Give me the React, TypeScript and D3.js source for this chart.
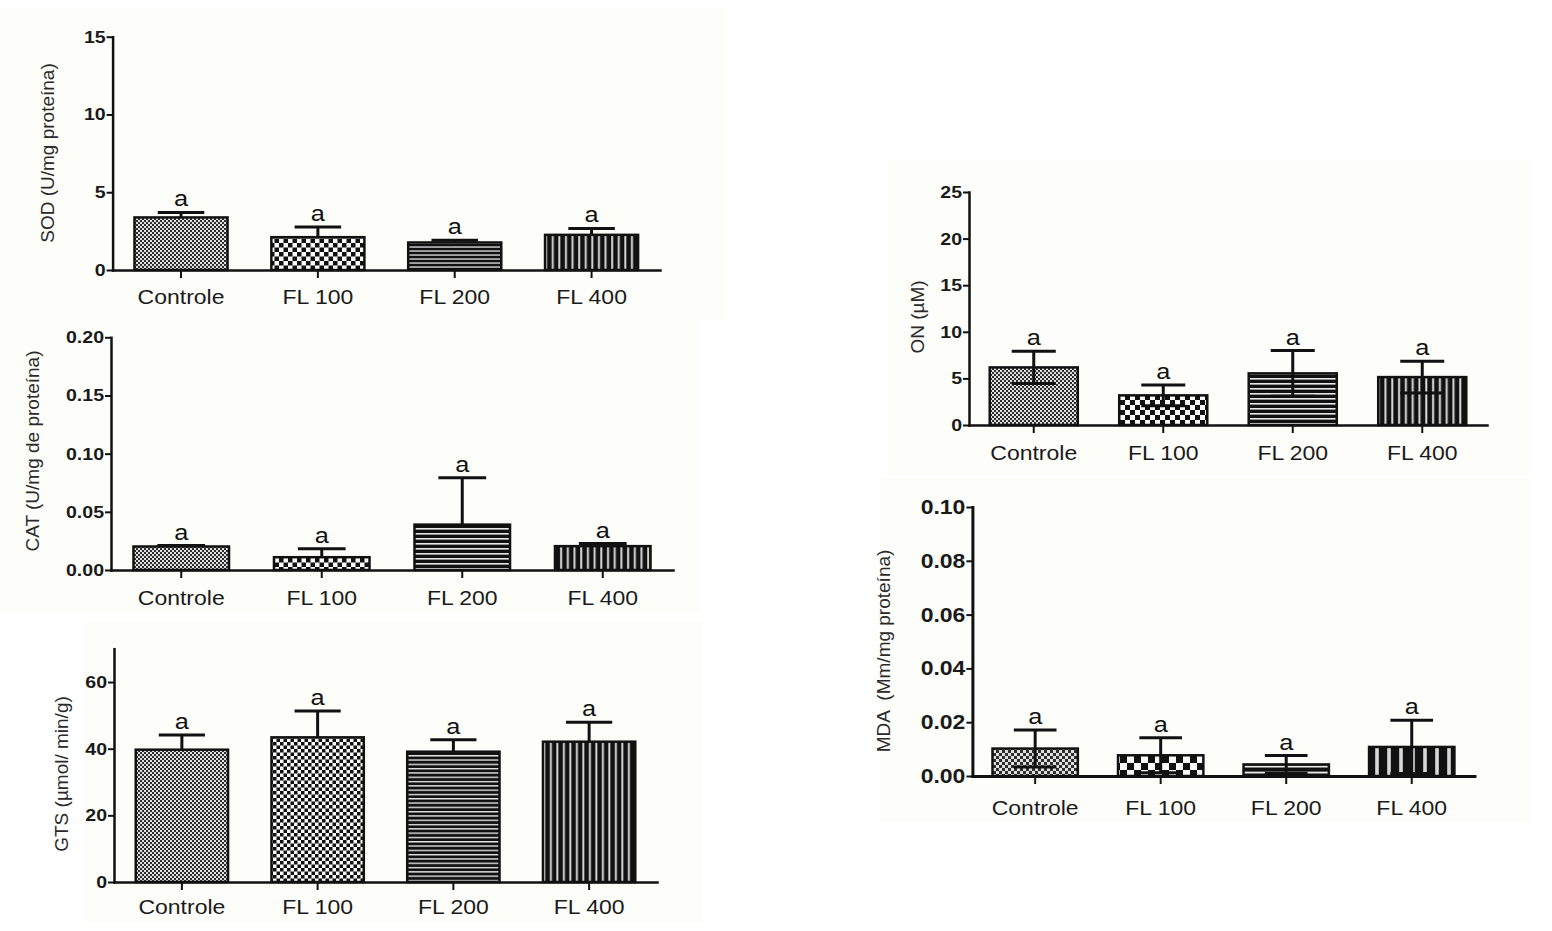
import React, { useEffect, useRef } from 'react';
import * as d3 from 'd3';

// groups on the x axis
const categories = ['Controle', 'FL 100', 'FL 200', 'FL 400'];
const letters = ['a', 'a', 'a', 'a'];

// SOD
const sodMean = [3.38, 2.11, 1.77, 2.26];
const sodSd = [0.32, 0.65, 0.15, 0.41];
const sodTicks = [0, 5, 10, 15];

// CAT
const catMean = [0.0202, 0.011, 0.039, 0.0205];
const catSd = [0.0008, 0.0072, 0.0402, 0.0022];
const catTicks = [0, 0.05, 0.1, 0.15, 0.2];

// GTS
const gtsMean = [39.7, 43.4, 39.1, 42.1];
const gtsSd = [4.4, 7.9, 3.6, 5.8];
const gtsTicks = [0, 20, 40, 60];

// ON
const onMean = [6.18, 3.18, 5.54, 5.14];
const onSd = [1.72, 1.11, 2.45, 1.7];
const onTicks = [0, 5, 10, 15, 20, 25];

// MDA
const mdaMean = [0.0102, 0.0077, 0.0043, 0.0108];
const mdaSd = [0.0069, 0.0065, 0.0033, 0.0099];
const mdaTicks = [0, 0.02, 0.04, 0.06, 0.08, 0.1];

const fills = ['dot', 'chk', 'hs', 'vs'];

const panels = [
    {
        id: 'sod', mean: sodMean, sd: sodSd, twoSided: false, ticks: sodTicks, yMax: 15, fmt: d3.format('d'),
        title: 'SOD (U/mg proteína)', x0: 112.6, x1: 660, y0: 270, y1: 36.7, lx: 47, ly: 153,
        tickFont: 17, lab: 34, axisW: 2.5, dot: 1, chk: 9, hs: 4, vs: 6.6, bg: [0, 8, 725, 312]
    },
    {
        id: 'cat', mean: catMean, sd: catSd, twoSided: false, ticks: catTicks, yMax: 0.2, fmt: d3.format('.2f'),
        title: 'CAT (U/mg de proteína)', x0: 111, x1: 673, y0: 570, y1: 337.3, lx: 32, ly: 451,
        tickFont: 17, lab: 35, axisW: 2.5, dot: 1, chk: 9, hs: 5, vs: 6.7, bg: [0, 320, 700, 293]
    },
    {
        id: 'gts', mean: gtsMean, sd: gtsSd, twoSided: false, ticks: gtsTicks, yMax: 70, fmt: d3.format('d'),
        title: 'GTS (µmol/ min/g)', x0: 114, x1: 657, y0: 882, y1: 648.7, lx: 61, ly: 774,
        tickFont: 17, lab: 32, axisW: 2.5, dot: 1, chk: 7, hs: 4.3, vs: 6.5, bg: [83, 622, 620, 300]
    },
    {
        id: 'on', mean: onMean, sd: onSd, twoSided: true, ticks: onTicks, yMax: 25, fmt: d3.format('d'),
        title: 'ON (µM)', x0: 969, x1: 1487, y0: 425, y1: 192, lx: 917, ly: 317,
        tickFont: 17, lab: 35, axisW: 2.5, dot: 1, chk: 10, hs: 5, vs: 6.8, bg: [887, 160, 645, 315]
    },
    {
        id: 'mda', mean: mdaMean, sd: mdaSd, twoSided: true, ticks: mdaTicks, yMax: 0.1, fmt: d3.format('.2f'),
        title: 'MDA  (Mm/mg proteína)', x0: 972.4, x1: 1474.5, y0: 776, y1: 507, lx: 883, ly: 651,
        tickFont: 20, lab: 39, axisW: 3, dot: 1.5, chk: 14, hs: 6, vs: 12, bg: [880, 478, 650, 345]
    }
];

const FONT = '"Liberation Sans", Arial, sans-serif';
const STRETCH = 'scale(1.15,1)';

function addPatterns(defs, p) {
    const s = p.dot;
    const dot = defs.append('pattern').attr('id', `${p.id}-dot`).attr('patternUnits', 'userSpaceOnUse')
        .attr('width', 4 * s).attr('height', 4 * s);
    dot.append('rect').attr('width', 4 * s).attr('height', 4 * s).attr('fill', '#dedede');
    dot.append('rect').attr('width', 2 * s).attr('height', 2 * s).attr('fill', '#2e2e2e');
    dot.append('rect').attr('x', 2 * s).attr('y', 2 * s).attr('width', 2 * s).attr('height', 2 * s).attr('fill', '#2e2e2e');

    const c = p.chk;
    const chk = defs.append('pattern').attr('id', `${p.id}-chk`).attr('patternUnits', 'userSpaceOnUse')
        .attr('width', c).attr('height', c);
    chk.append('rect').attr('width', c).attr('height', c).attr('fill', '#fafafa');
    chk.append('rect').attr('width', c / 2).attr('height', c / 2).attr('fill', '#111');
    chk.append('rect').attr('x', c / 2).attr('y', c / 2).attr('width', c / 2).attr('height', c / 2).attr('fill', '#111');

    const hs = defs.append('pattern').attr('id', `${p.id}-hs`).attr('patternUnits', 'userSpaceOnUse')
        .attr('width', 10).attr('height', p.hs);
    hs.append('rect').attr('width', 10).attr('height', p.hs).attr('fill', '#111');
    hs.append('rect').attr('y', p.hs * 0.6).attr('width', 10).attr('height', p.hs * 0.32).attr('fill', '#e6e6e6');

    const vs = defs.append('pattern').attr('id', `${p.id}-vs`).attr('patternUnits', 'userSpaceOnUse')
        .attr('width', p.vs).attr('height', 10);
    vs.append('rect').attr('width', p.vs).attr('height', 10).attr('fill', '#111');
    vs.append('rect').attr('x', p.vs * 0.6).attr('width', p.vs * 0.3).attr('height', 10).attr('fill', '#d8d8d8');
}

function App() {
    const svgRef = useRef(null);

    useEffect(() => {
        const svg = d3.select(svgRef.current);
        svg.selectAll('*').remove();
        const defs = svg.append('defs');

        // very faint cream panel backgrounds
        panels.forEach(p => {
            svg.append('rect')
                .attr('x', p.bg[0]).attr('y', p.bg[1])
                .attr('width', p.bg[2]).attr('height', p.bg[3])
                .attr('fill', '#fdfdf9');
        });

        panels.forEach(p => {
            addPatterns(defs, p);

            const x = d3.scaleBand().domain(categories).range([p.x0, p.x1])
                .paddingInner(0.32).paddingOuter(0.16);
            const y = d3.scaleLinear().domain([0, p.yMax]).range([p.y0, p.y1]);
            const g = svg.append('g');
            const bw = x.bandwidth();
            const cx = d => x(d) + bw / 2;

            // bars
            g.selectAll('rect.bar')
                .data(categories)
                .join('rect')
                .attr('class', 'bar')
                .attr('x', d => x(d))
                .attr('y', (d, i) => y(p.mean[i]))
                .attr('width', bw)
                .attr('height', (d, i) => y(0) - y(p.mean[i]))
                .attr('fill', (d, i) => `url(#${p.id}-${fills[i]})`)
                .attr('stroke', '#111')
                .attr('stroke-width', 2.5);

            // error bars
            const hi = i => p.mean[i] + p.sd[i];
            const lo = i => (p.twoSided ? Math.max(0, p.mean[i] - p.sd[i]) : p.mean[i]);
            const capW = bw * 0.5;
            const err = g.selectAll('g.err').data(categories).join('g').attr('class', 'err')
                .attr('stroke', '#111').attr('stroke-width', 3);
            err.append('line')
                .attr('x1', d => cx(d)).attr('x2', d => cx(d))
                .attr('y1', (d, i) => y(lo(i))).attr('y2', (d, i) => y(hi(i)));
            err.append('line')
                .attr('x1', d => cx(d) - capW / 2).attr('x2', d => cx(d) + capW / 2)
                .attr('y1', (d, i) => y(hi(i))).attr('y2', (d, i) => y(hi(i)));
            if (p.twoSided) {
                err.append('line')
                    .attr('x1', d => cx(d) - capW / 2).attr('x2', d => cx(d) + capW / 2)
                    .attr('y1', (d, i) => y(lo(i))).attr('y2', (d, i) => y(lo(i)));
            }

            // significance letters
            g.selectAll('text.sig')
                .data(categories)
                .join('text')
                .attr('class', 'sig')
                .attr('transform', (d, i) => `translate(${cx(d)},${y(hi(i)) - 6}) ${STRETCH}`)
                .attr('text-anchor', 'middle')
                .style('font-family', FONT)
                .style('font-size', '22px')
                .style('fill', '#111')
                .text((d, i) => letters[i]);

            // y axis
            const yAxis = g.append('g')
                .attr('transform', `translate(${p.x0},0)`)
                .call(d3.axisLeft(y).tickValues(p.ticks).tickFormat(p.fmt).tickSize(6).tickSizeOuter(0));
            yAxis.select('.domain').attr('stroke', '#111').attr('stroke-width', p.axisW).attr('stroke-linecap', 'square');
            yAxis.selectAll('.tick line').attr('stroke', '#111').attr('stroke-width', 2);
            yAxis.selectAll('.tick text')
                .attr('x', -7 / 1.15)
                .attr('transform', STRETCH)
                .style('font-family', FONT)
                .style('font-size', `${p.tickFont}px`)
                .style('font-weight', 'bold')
                .style('fill', '#1a1a1a');

            // x axis
            const xAxis = g.append('g')
                .attr('transform', `translate(0,${p.y0})`)
                .call(d3.axisBottom(x).tickSize(8).tickSizeOuter(0));
            xAxis.select('.domain').attr('stroke', '#111').attr('stroke-width', p.axisW).attr('stroke-linecap', 'square');
            xAxis.selectAll('.tick line').attr('stroke', '#111').attr('stroke-width', 2);
            xAxis.selectAll('.tick text')
                .attr('y', p.lab)
                .attr('dy', 0)
                .attr('transform', STRETCH)
                .attr('x', 0)
                .style('font-family', FONT)
                .style('font-size', '20px')
                .style('fill', '#1a1a1a');

            // y label
            g.append('text')
                .attr('transform', `translate(${p.lx},${p.ly}) rotate(-90)`)
                .attr('text-anchor', 'middle')
                .attr('dy', '0.35em')
                .style('font-family', FONT)
                .style('font-size', '19px')
                .style('white-space', 'pre')
                .style('fill', '#2a2a2a')
                .text(p.title);
        });
    }, []);

    return (
        <div style={{ position: 'absolute', left: 0, top: 0 }}>
            <svg ref={svgRef} width={1552} height={931} style={{ display: 'block', background: '#ffffff' }}></svg>
        </div>
    );
}

export default App;
